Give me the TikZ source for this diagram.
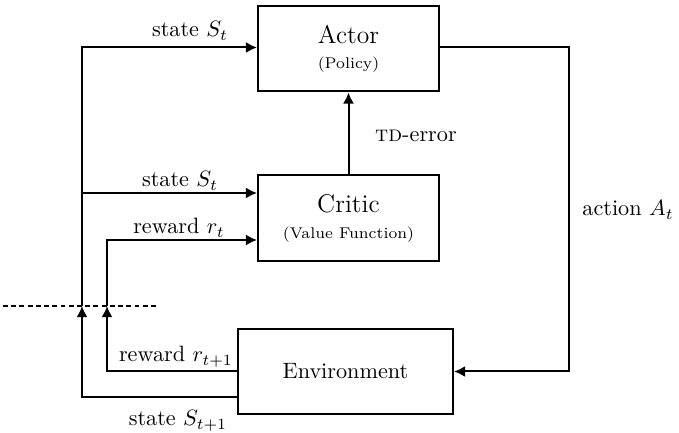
\documentclass[tikz,border=0pt]{standalone}
\usetikzlibrary{arrows.meta}
\begin{document}
\begin{tikzpicture}[x=0.45pt,y=-0.45pt,
  box/.style={draw,line width=0.9pt,rectangle,align=center,inner sep=0pt},
  conn/.style={line width=0.9pt,-{Latex[length=5pt,width=5pt]}},
  lbl/.style={anchor=base,inner sep=0pt}]
\useasboundingbox (0,0) rectangle (679,433);
% boxes
\node[box,minimum width=81.45pt,minimum height=38.25pt] (actor) at (348.5,49)
  {{\fontsize{11.5}{13}\selectfont Actor}\\[-0.5pt]{\scriptsize (Policy)}};
\node[box,minimum width=81.45pt,minimum height=38.7pt] (critic) at (348.5,218.5)
  {{\fontsize{11.5}{13}\selectfont Critic}\\[-0.5pt]{\scriptsize (Value Function)}};
\node[box,minimum width=96.75pt,minimum height=38.25pt] (env) at (345.5,371.5)
  {Environment};
% helper coordinates
\coordinate (j1) at (82,306);
\coordinate (j2) at (107,306);
\coordinate (b1) at (82,193);
\coordinate (yr) at (0,240);
\coordinate (ys) at (0,397);
\coordinate (a1) at (569,200);
\coordinate (dl) at (3,306);
\coordinate (dr) at (158,306);
\coordinate (ya) at (0,47.5);
\coordinate (xa) at (348.5,0);
% connectors
\draw[conn] (j1) |- (actor.west |- ya);
\draw[conn] (b1) -- (b1 -| critic.west);
\draw[conn] (j2) |- (critic.west |- yr);
\draw[conn] (env.west |- ys) -| (j1);
\draw[conn] (env.west) -| (j2);
\draw[line width=0.9pt] (actor.east |- ya) -| (a1);
\draw[conn] (a1) |- (env.east);
\draw[conn] (critic.north) -- (actor.south);
\draw[line width=0.8pt,dash pattern=on 2.2pt off 1.5pt] (dl) -- (dr);
% labels
\node[lbl] (l1) at (190,37) {state $S_t$};
\node[lbl] (l2) at (180,187) {state $S_t$};
\node[lbl] (l3) at (179,234) {reward $r_t$};
\node[lbl] (l4) at (176,362) {reward $r_{t+1}$};
\node[lbl] (l5) at (178,426) {state $S_{t+1}$};
\node[lbl] (l6) at (416,142) {\textsc{td}-error};
\node[lbl] (l7) at (628,216) {action $A_t$};
\end{tikzpicture}
\end{document}
